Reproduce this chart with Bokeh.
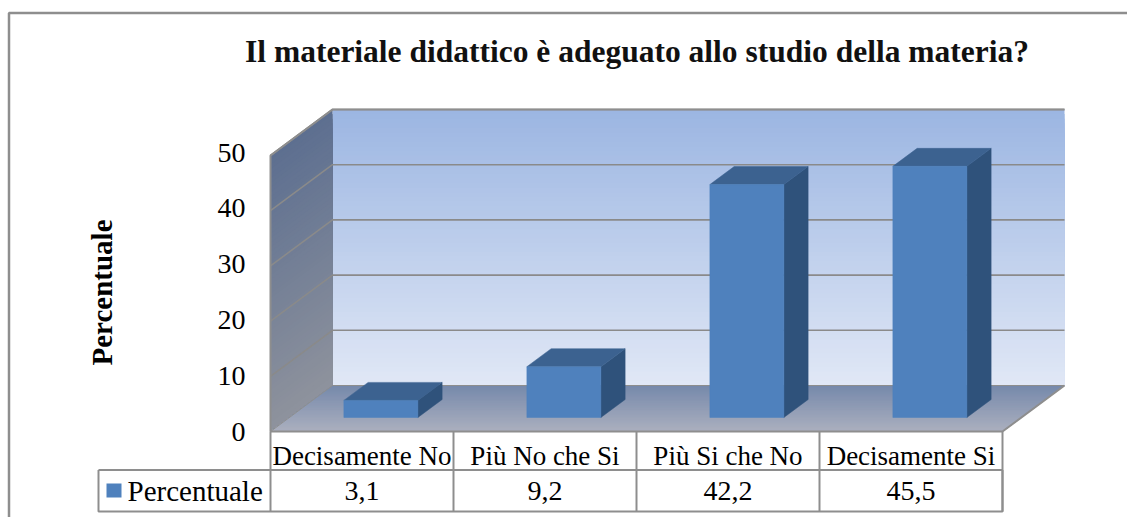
from bokeh.plotting import figure
from bokeh.models import LinearAxis, FixedTicker, Range1d
from bokeh.core.properties import value
from bokeh.embed import file_html
from bokeh.resources import INLINE
import numpy as np

# ---- data ----
title_text = "Il materiale didattico è adeguato allo studio della materia?"
y_title = "Percentuale"
series_name = "Percentuale"
categories = ["Decisamente No", "Più No che Si", "Più Si che No", "Decisamente Si"]
values = [3.1, 9.2, 42.2, 45.5]
y_ticks = [0, 10, 20, 30, 40, 50]

# ---- layout (pixels on the page; Bokeh's page template has no body margin) ----
W, H = 1127, 517
X0, Y0 = 270, 431          # front-left floor corner
CAT_PX, VAL_PX = 183, 5.52  # pixels per category, per percent
LABEL_PX = 5.58             # spacing of the value-axis labels, per percent
DEPTH_X, DEPTH_Y = 62, 46   # floor depth
YMAX = y_ticks[-1]
FONT = value("Liberation Serif")
GRID = "#8a8a8a"
EDGE = "#8e8e8e"

def ux(px):  # page px -> category units
    return (px - X0) / CAT_PX
def uy(py):  # page py -> percent units
    return (Y0 - py) / VAL_PX

ddx = DEPTH_X / CAT_PX
ddy = DEPTH_Y / VAL_PX
n = len(categories)

p = figure(width=W, height=H, output_backend="svg", toolbar_location=None,
           x_range=Range1d(ux(0), ux(W)),
           y_range=Range1d(uy(H), uy(0)),
           x_axis_type=None, y_axis_type=None, min_border=0,
           background_fill_color="white", border_fill_color="white",
           outline_line_color=None)
p.grid.visible = False
p.extra_y_ranges = {"labels": Range1d((Y0 - H) / LABEL_PX, Y0 / LABEL_PX)}

def lerp(a, b, t):
    a = np.array([int(a[i:i+2], 16) for i in (1, 3, 5)], float)
    b = np.array([int(b[i:i+2], 16) for i in (1, 3, 5)], float)
    c = a + (b - a) * t
    return "#%02x%02x%02x" % tuple(int(round(v)) for v in c)

BANDS = 60
ts = np.linspace(0, 1, BANDS + 1)[:-1]
# back wall gradient: each band runs to the wall's bottom, painted over by the next
xs, ys, cs = [], [], []
for t in ts:
    top = YMAX * (1 - t) + ddy
    xs.append([ddx, n + ddx, n + ddx, ddx]); ys.append([top, top, ddy, ddy])
    cs.append(lerp("#9cb6e2", "#e1e8f6", t))
p.patches(xs, ys, fill_color=cs, line_color=None)
# side wall gradient
xs, ys, cs = [], [], []
for t in ts:
    t0 = YMAX * (1 - t)
    xs.append([0, ddx, ddx, 0]); ys.append([t0, t0 + ddy, ddy, 0])
    cs.append(lerp("#5d6f90", "#8f939d", t))
p.patches(xs, ys, fill_color=cs, line_color=None)
# floor gradient
xs, ys, cs = [], [], []
for t in ts:
    a = 1 - t
    xs.append([a * ddx, n + a * ddx, n, 0])
    ys.append([a * ddy, a * ddy, 0, 0])
    cs.append(lerp("#7689ab", "#acb0bf", t))
p.patches(xs, ys, fill_color=cs, line_color=None)

# gridlines on walls
for t in y_ticks[1:]:
    p.line([0, ddx, n + ddx], [t, t + ddy, t + ddy], line_color=GRID, line_width=1.6)
# edges
p.line([0, 0, ddx, n + ddx], [0, YMAX, YMAX + ddy, YMAX + ddy], line_color=EDGE, line_width=2)
p.line([ddx, n + ddx], [ddy, ddy], line_color="#8d8d8d", line_width=1)
p.line([0, ddx], [0, ddy], line_color=EDGE, line_width=1)
p.line([0, n, n + ddx], [0, 0, ddy], line_color=EDGE, line_width=2)

# bars
F0, F1 = 14 / DEPTH_Y, 32 / DEPTH_Y   # bar depth span as a fraction of the floor depth
BW = 74 / CAT_PX
for i, v in enumerate(values):
    l0 = i + 0.5 - BW / 2 + F0 * ddx
    r0 = l0 + BW
    b0 = F0 * ddy
    sx, sy = (F1 - F0) * ddx, (F1 - F0) * ddy
    p.patch([r0, r0 + sx, r0 + sx, r0], [b0, b0 + sy, b0 + sy + v, b0 + v],
            fill_color="#2f527b", line_color="#2f527b", line_width=0.5)
    p.patch([l0, r0, r0 + sx, l0 + sx], [b0 + v, b0 + v, b0 + v + sy, b0 + v + sy],
            fill_color="#3c6290", line_color="#3c6290", line_width=0.5)
    p.quad(left=l0, right=r0, bottom=b0, top=b0 + v,
           fill_color="#4f81bd", line_color="#4f81bd", line_width=0.5)

# outer chart border
p.line([ux(8.5), ux(8.5), ux(W)], [uy(H), uy(12.5), uy(12.5)], line_color=EDGE, line_width=2.5)

# data table
T_LEFT, T_MID, T_BOT = 98, 469.5, 511
for i in range(n + 1):
    p.line([i, i], [0, uy(T_BOT)], line_color=EDGE, line_width=2)
p.line([ux(T_LEFT), ux(T_LEFT), n, n], [uy(T_MID), uy(T_BOT), uy(T_BOT), uy(T_MID)],
       line_color=EDGE, line_width=2)
p.line([ux(T_LEFT), n], [uy(T_MID), uy(T_MID)], line_color=EDGE, line_width=2)
p.quad(left=ux(106), right=ux(121), bottom=uy(497), top=uy(483), fill_color="#4f81bd", line_color=None)
p.text([ux(127)], [uy(490)], text=[series_name], text_font=FONT, text_font_size="29px",
       text_color="black", text_align="left", text_baseline="middle")
p.text([i + 0.5 for i in range(n)], [uy(490)] * n,
       text=[f"{v:.1f}".replace(".", ",") for v in values], text_font=FONT, text_font_size="28px",
       text_color="black", text_align="center", text_baseline="middle")

# chart title
p.text([ux(636.5)], [uy(51)], text=[title_text], text_font=FONT, text_font_size="31.5px",
       text_font_style="bold", text_color="#111111", text_align="center", text_baseline="middle")

# value-axis title
p.text([ux(101)], [uy(292)], text=[y_title], text_font=FONT, text_font_size="29px",
       text_font_style="bold", text_color="black", angle=np.pi / 2,
       text_align="center", text_baseline="middle")

# axes
ya = LinearAxis(ticker=FixedTicker(ticks=y_ticks), fixed_location=0, y_range_name="labels",
                axis_line_color=None, major_tick_line_color=None, minor_tick_line_color=None,
                major_tick_in=0, major_tick_out=0, major_label_standoff=25,
                major_label_text_font="Liberation Serif", major_label_text_font_size="28px",
                major_label_text_color="black")
p.add_layout(ya, "left")
xa = LinearAxis(ticker=FixedTicker(ticks=[i + 0.5 for i in range(n)]),
                major_label_overrides={i + 0.5: c for i, c in enumerate(categories)},
                fixed_location=uy(440),
                axis_line_color=None, major_tick_line_color=None, minor_tick_line_color=None,
                major_tick_in=0, major_tick_out=0, major_label_standoff=0,
                major_label_text_font="Liberation Serif", major_label_text_font_size="27px",
                major_label_text_color="black")
p.add_layout(xa, "below")

open("out.html", "w").write(file_html(p, INLINE))
